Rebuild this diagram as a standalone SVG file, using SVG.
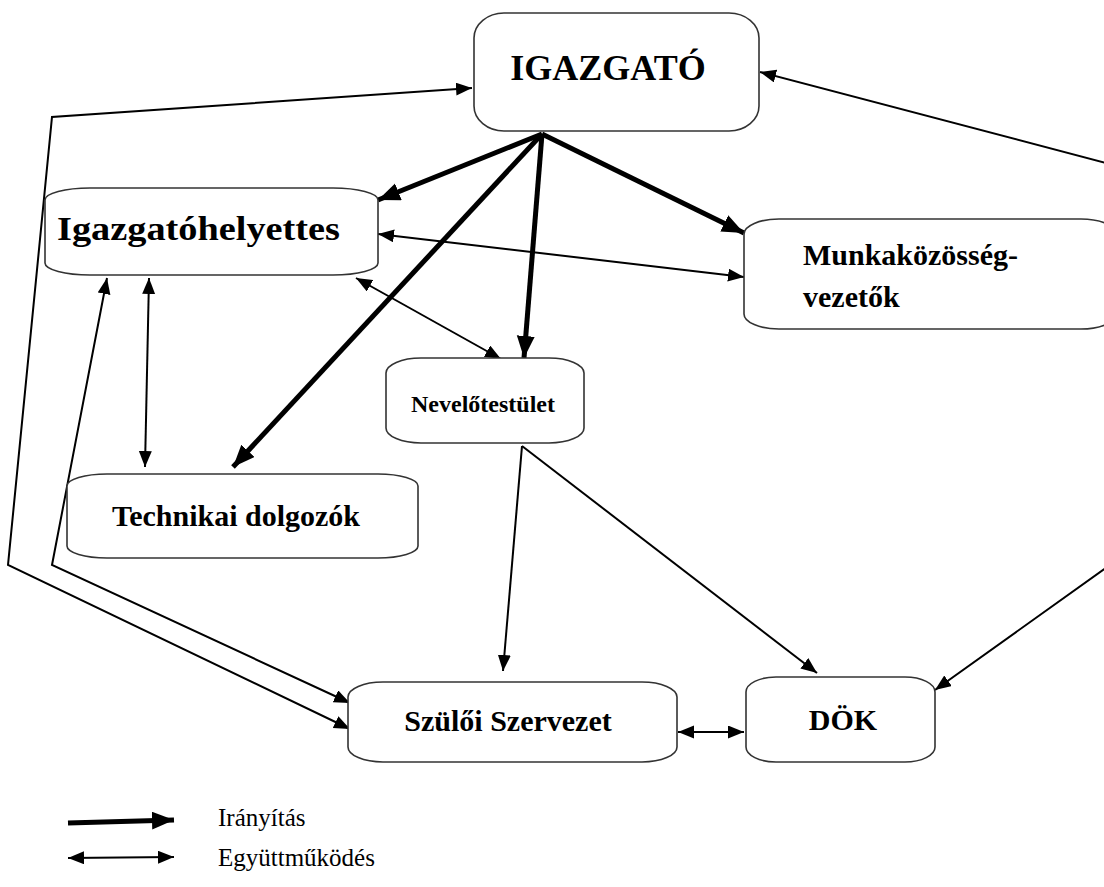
<svg xmlns="http://www.w3.org/2000/svg" width="1104" height="887" viewBox="0 0 1104 887">
<style>
.box{fill:#fff;stroke:#333;stroke-width:1.6}
.lbl{font-family:"Liberation Serif","Times New Roman",serif;font-weight:bold;fill:#000}
.leg{font-family:"Liberation Serif","Times New Roman",serif;font-size:25px;fill:#000}
.thick{stroke:#000;stroke-width:5;fill:none}
.thin{stroke:#000;stroke-width:2;fill:none}
</style>
<defs>
<marker id="ah" markerUnits="userSpaceOnUse" markerWidth="24" markerHeight="20" refX="22" refY="9" orient="auto-start-reverse"><path d="M0,0 L22,9 L0,18 z" fill="#000"/></marker>
<marker id="at" markerUnits="userSpaceOnUse" markerWidth="18" markerHeight="14" refX="16" refY="6.5" orient="auto-start-reverse"><path d="M0,0 L16,6.5 L0,13 z" fill="#000"/></marker>
</defs>
<rect width="1104" height="887" fill="#fff"/>
<g id="connectors">
<line class="thick" x1="542" y1="134" x2="378" y2="200" marker-end="url(#ah)"/>
<line class="thick" x1="542" y1="134" x2="233" y2="467" marker-end="url(#ah)"/>
<line class="thick" x1="542" y1="134" x2="524" y2="358" marker-end="url(#ah)"/>
<line class="thick" x1="542" y1="134" x2="744" y2="233" marker-end="url(#ah)"/>
<line class="thin" x1="378" y1="234" x2="744" y2="277" marker-start="url(#at)" marker-end="url(#at)"/>
<line class="thin" x1="356" y1="278" x2="501" y2="359" marker-start="url(#at)" marker-end="url(#at)"/>
<line class="thin" x1="149" y1="278" x2="145" y2="467" marker-start="url(#at)" marker-end="url(#at)"/>
<polyline class="thin" points="107,278 52,565 350,703" marker-start="url(#at)" marker-end="url(#at)"/>
<polyline class="thin" points="472,88 52,117 8,565 350,729" marker-start="url(#at)" marker-end="url(#at)"/>
<polyline class="thin" points="760,72 1110,164 1110,565 935,690" marker-start="url(#at)" marker-end="url(#at)"/>
<line class="thin" x1="522" y1="446" x2="503" y2="671" marker-end="url(#at)"/>
<line class="thin" x1="522" y1="446" x2="817" y2="673" marker-end="url(#at)"/>
<line class="thin" x1="678" y1="732" x2="744" y2="732" marker-start="url(#at)" marker-end="url(#at)"/>
</g>
<g id="igazgato">
<rect class="box" x="474" y="13" width="285" height="118" rx="30" ry="25"/>
<text class="lbl" x="608" y="80" font-size="36" text-anchor="middle">IGAZGATÓ</text>
</g>
<g id="igazgatohelyettes">
<rect class="box" x="45" y="188" width="333" height="87" rx="45" ry="12"/>
<text class="lbl" x="57" y="240" font-size="34" textLength="283" lengthAdjust="spacingAndGlyphs">Igazgatóhelyettes</text>
</g>
<g id="munkakozosseg">
<rect class="box" x="744" y="219" width="372" height="110" rx="35" ry="15"/>
<text class="lbl" x="803" y="265" font-size="30">Munkaközösség-</text>
<text class="lbl" x="803" y="307" font-size="30">vezetők</text>
</g>
<g id="nevelotestulet">
<rect class="box" x="386" y="358" width="198" height="85" rx="35" ry="15"/>
<text class="lbl" x="483" y="412" font-size="24" text-anchor="middle">Nevelőtestület</text>
</g>
<g id="technikai">
<rect class="box" x="67" y="474" width="351" height="84" rx="40" ry="12"/>
<text class="lbl" x="236" y="526" font-size="30" text-anchor="middle">Technikai dolgozók</text>
</g>
<g id="szuloi">
<rect class="box" x="348" y="682" width="329" height="80" rx="35" ry="15"/>
<text class="lbl" x="508" y="731" font-size="30" text-anchor="middle">Szülői Szervezet</text>
</g>
<g id="dok">
<rect class="box" x="746" y="677" width="189" height="85" rx="30" ry="15"/>
<text class="lbl" x="843" y="730" font-size="30" text-anchor="middle">DÖK</text>
</g>
<g id="legend">
<line class="thick" x1="68" y1="823" x2="174" y2="820" marker-end="url(#ah)"/>
<line class="thin" x1="68" y1="858" x2="174" y2="857" marker-start="url(#at)" marker-end="url(#at)"/>
<text class="leg" x="218" y="826">Irányítás</text>
<text class="leg" x="218" y="866">Együttműködés</text>
</g>
</svg>
